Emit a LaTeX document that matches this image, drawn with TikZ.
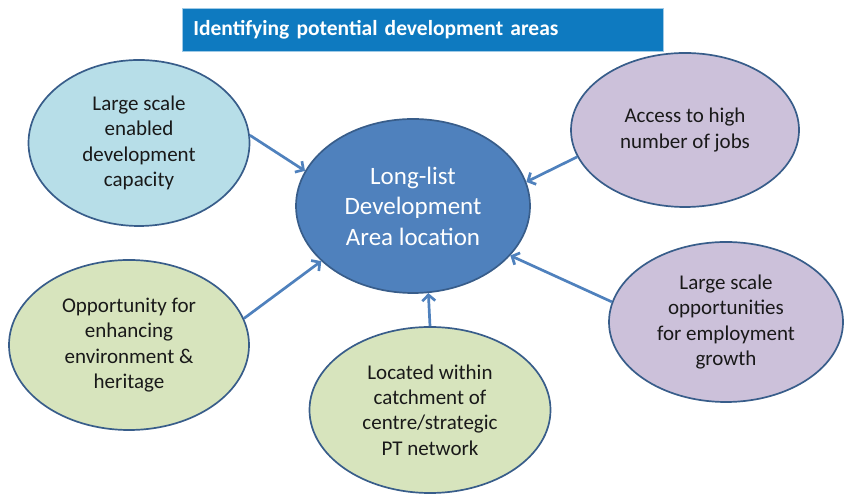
\documentclass[tikz,border=0pt]{standalone}
\usepackage{fontspec}
\setmainfont{Carlito}
\usetikzlibrary{shapes.geometric,arrows.meta}
\definecolor{titleblue}{RGB}{14,122,192}
\definecolor{hubblue}{RGB}{79,129,189}
\definecolor{rimblue}{RGB}{56,93,138}
\definecolor{paleblue}{RGB}{183,222,232}
\definecolor{palelilac}{RGB}{204,193,218}
\definecolor{palegreen}{RGB}{215,228,189}

\begin{document}
\begin{tikzpicture}[x=1pt,y=1pt,
  blob/.style={ellipse,draw=rimblue,line width=1.7pt,inner sep=0pt,align=center,
    font=\fontsize{21}{25.2}\selectfont,text=black!90},
  link/.style={draw=hubblue,line width=2.7pt,-{Straight Barb[length=6pt,width=13pt]}}]
  \useasboundingbox (0,0) rectangle (845,494);
  % heading bar
  \node (head) at (182,464.5) [anchor=west,fill=titleblue,draw=titleblue!40,line width=0.6pt,
    minimum height=43pt,text width=459pt,inner xsep=11pt,align=left,text=white,
    font=\fontsize{21.5}{24}\selectfont\bfseries]{Identifying potential development areas};
  % hub
  \node (centre) at (413,288) [blob,fill=hubblue,text=white,minimum width=234pt,minimum height=174pt,
    font=\fontsize{25}{30.5}\selectfont]{Long-list\\Development\\Area location};
  % criteria
  \node (tl) at (139,351) [blob,fill=paleblue,minimum width=221pt,minimum height=166pt]
    {Large scale\\enabled\\development\\capacity};
  \node (tr) at (685,364) [blob,fill=palelilac,minimum width=228pt,minimum height=154pt]
    {Access to high\\number of jobs};
  \node (bl) at (129,149) [blob,fill=palegreen,minimum width=240pt,minimum height=170pt]
    {Opportunity for\\enhancing\\environment \&\\heritage};
  \node (bc) at (430,84) [blob,fill=palegreen,minimum width=241pt,minimum height=166pt]
    {Located within\\catchment of\\centre/strategic\\PT network};
  \node (br) at (726,172) [blob,fill=palelilac,minimum width=234pt,minimum height=160pt]
    {Large scale\\opportunities\\for employment\\growth};
  \foreach \a/\b in {tl.4/centre.162,tr.194/centre.12,bl.13/centre.211,bc.north/centre.-80,br.170/centre.-27}
  {
    \draw[link] (\a) -- (\b);
  }
\end{tikzpicture}
\end{document}
